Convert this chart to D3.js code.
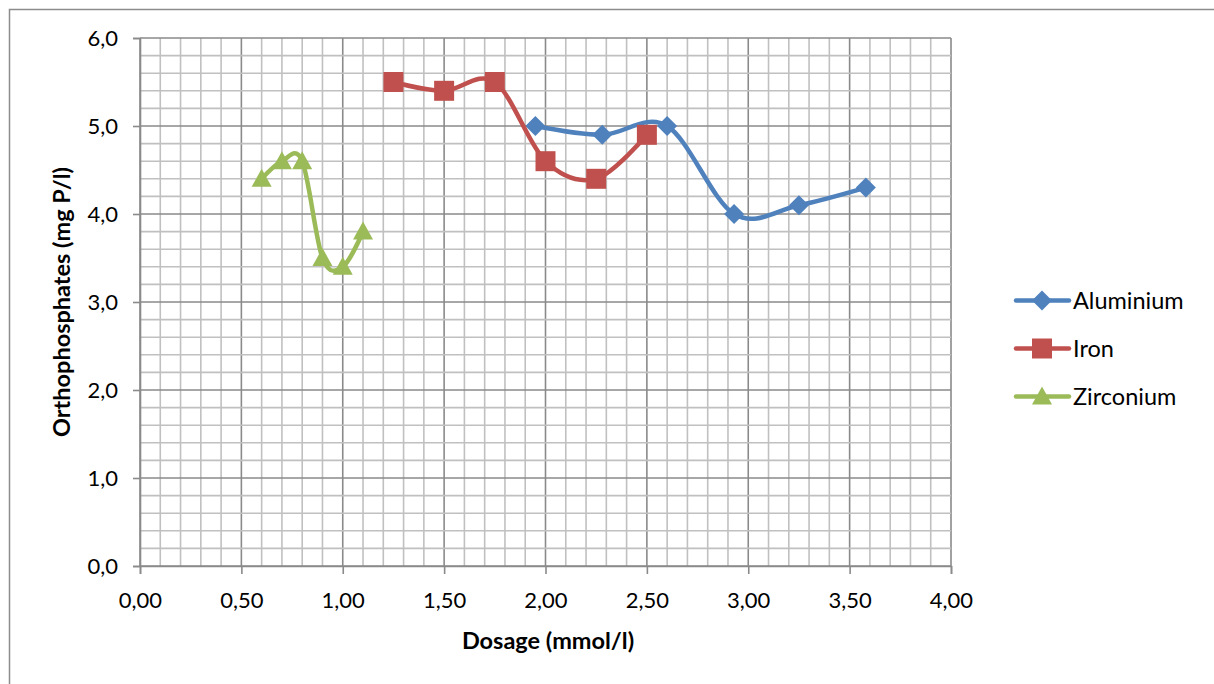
<!DOCTYPE html>
<html><head><meta charset="utf-8">
<script src="https://cdn.jsdelivr.net/npm/d3@7"></script>
<style>body{margin:0;background:#fff;} text{font-family:Lato,"Open Sans",sans-serif;}</style>
</head><body>
<svg id="c" width="1214" height="684"></svg>
<script>
const seriesNames = ["Aluminium", "Iron", "Zirconium"];
const aluminiumX = [1.95, 2.28, 2.60, 2.93, 3.25, 3.58];
const aluminiumY = [5.0, 4.9, 5.0, 4.0, 4.1, 4.3];
const ironX = [1.25, 1.50, 1.75, 2.00, 2.25, 2.50];
const ironY = [5.5, 5.4, 5.5, 4.6, 4.4, 4.9];
const zirconiumX = [0.6, 0.7, 0.8, 0.9, 1.0, 1.1];
const zirconiumY = [4.4, 4.6, 4.6, 3.5, 3.4, 3.8];
const xTicks = [0, 0.5, 1, 1.5, 2, 2.5, 3, 3.5, 4];
const yTicks = [0, 1, 2, 3, 4, 5, 6];
const colors = ["#4F81BD", "#C0504D", "#9BBB59"];

const svg = d3.select("#c");
svg.append("rect").attr("x",9.5).attr("y",9.5).attr("width",1220).attr("height",700)
  .attr("fill","none").attr("stroke","#8c8c8c").attr("stroke-width",1.5);

const x = d3.scaleLinear().domain([0,4]).range([140,951]);
const y = d3.scaleLinear().domain([0,6]).range([566,38]);

const g = svg.append("g");
const xMinor = d3.range(0, 41).map(i => i/10);
const yMinor = d3.range(0, 31).map(i => i/5);
g.selectAll(".vx").data(xMinor).join("line")
  .attr("x1", d=>x(d)).attr("x2", d=>x(d)).attr("y1", y(0)).attr("y2", y(6))
  .attr("stroke", d => Math.abs(d*2 - Math.round(d*2))<1e-6 ? "#8a8a8a" : "#c0c0c0")
  .attr("stroke-width", 1.6);
g.selectAll(".hy").data(yMinor).join("line")
  .attr("y1", d=>y(d)).attr("y2", d=>y(d)).attr("x1", x(0)).attr("x2", x(4))
  .attr("stroke", d => Math.abs(d - Math.round(d))<1e-6 ? "#8a8a8a" : "#c0c0c0")
  .attr("stroke-width", 1.6);

const fmt = d3.format(".2f"), fmt1 = d3.format(".1f");
const xAxis = d3.axisBottom(x).tickValues(xTicks).tickSize(8).tickPadding(18)
  .tickFormat(d => fmt(d).replace(".", ","));
const yAxis = d3.axisLeft(y).tickValues(yTicks).tickSize(7).tickPadding(15)
  .tickFormat(d => fmt1(d).replace(".", ","));
const gx = svg.append("g").attr("transform", `translate(0,${y(0)})`).call(xAxis);
const gy = svg.append("g").attr("transform", `translate(${x(0)},0)`).call(yAxis);
[gx, gy].forEach(a => {
  a.select(".domain").attr("stroke", "#8a8a8a").attr("stroke-width", 1.6);
  a.selectAll(".tick line").attr("stroke", "#8a8a8a").attr("stroke-width", 1.6);
  a.selectAll("text").attr("font-size", 22).attr("fill", "#000").style("font-family","Lato,'Open Sans',sans-serif");
});

svg.append("text").attr("x", 548).attr("y", 649).attr("text-anchor","middle")
  .attr("font-size", 23.5).attr("font-weight","bold").text("Dosage (mmol/l)");
svg.append("text").attr("transform","translate(70,302) rotate(-90)").attr("text-anchor","middle")
  .attr("font-size", 23.5).attr("font-weight","bold").text("Orthophosphates (mg P/l)");

const shapes = {
  diamond: "M0,-10L10,0L0,10L-10,0Z",
  square: "M-10,-10H10V10H-10Z",
  triangle: "M0,-10L10,8L-10,8Z"
};
const series = [
  {name: seriesNames[0], xs: aluminiumX, ys: aluminiumY, color: colors[0], shape: "diamond"},
  {name: seriesNames[1], xs: ironX, ys: ironY, color: colors[1], shape: "square"},
  {name: seriesNames[2], xs: zirconiumX, ys: zirconiumY, color: colors[2], shape: "triangle"},
];
const line = d3.line().x(d=>x(d[0])).y(d=>y(d[1])).curve(d3.curveCardinal.tension(0));

function marker(sel, s, cx, cy) {
  sel.append("path").attr("d", shapes[s.shape])
    .attr("transform", `translate(${cx},${cy})`).attr("fill", s.color);
}

series.forEach(s => {
  const pts = s.xs.map((v,i)=>[v, s.ys[i]]);
  svg.append("path").attr("d", line(pts)).attr("fill","none").attr("stroke", s.color)
    .attr("stroke-width", 4.5).attr("stroke-linecap","round").attr("stroke-linejoin","round");
  const mg = svg.append("g");
  pts.forEach(p => marker(mg, s, x(p[0]), y(p[1])));
});

series.forEach((s, i) => {
  const ly = 300.5 + i*48;
  svg.append("line").attr("x1", 1016).attr("x2", 1069).attr("y1", ly).attr("y2", ly)
    .attr("stroke", s.color).attr("stroke-width", 4.5).attr("stroke-linecap","round");
  marker(svg, s, 1042, ly);
  svg.append("text").attr("x", 1073).attr("y", ly + 8).attr("font-size", 23.5).text(s.name);
});
</script>
</body></html>
